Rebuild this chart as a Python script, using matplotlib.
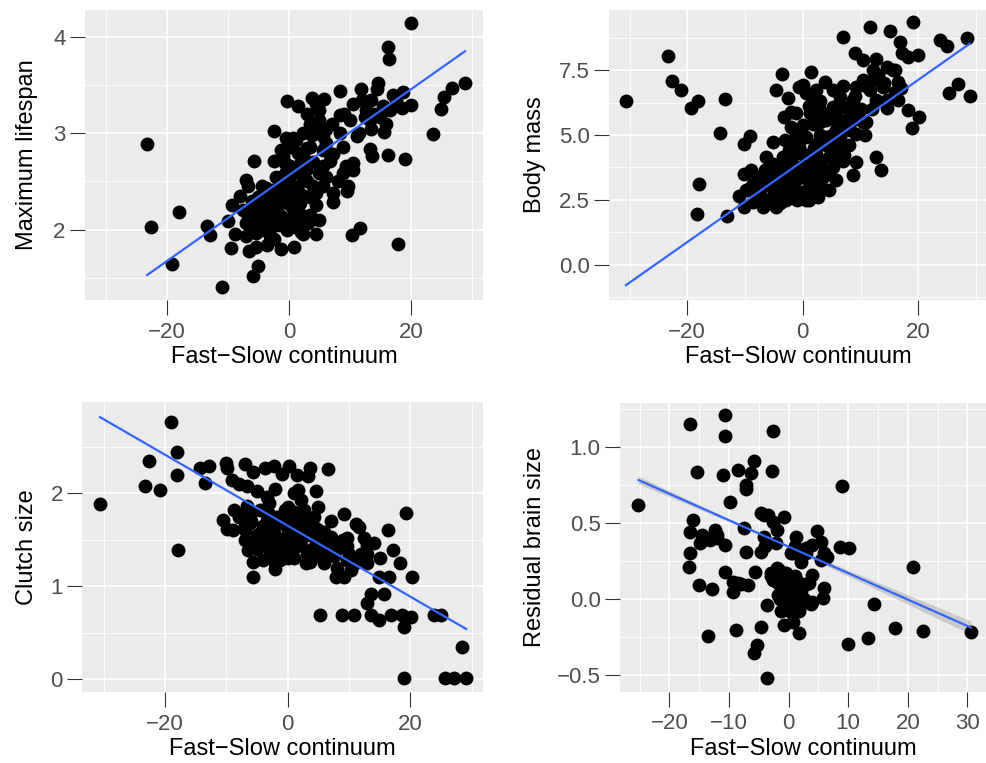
import numpy as np
import matplotlib
matplotlib.use('Agg')
import matplotlib.pyplot as plt
from matplotlib.ticker import FixedLocator

plt.rcParams['font.family'] = ['Liberation Sans', 'DejaVu Sans']

# ---- data ----
# panel 1: maximum lifespan vs fast-slow continuum
life_x = [20.1, 16.2, 16.4, 28.9, 26.8, 25.4, 24.9, 23.7, 19.0, 17.9, -23.3, -22.7, -18.0, -19.2,
          -11.0, -13.5, -12.9, -10.0, -9.3, -9.5, -8.8, -5.9, -5.1, -6.5, -5.4, -3.6, -1.3, 0.8,
          4.5, 2.3, 10.4, 11.6, -2.5, -5.8, -7.1, -6.8, -0.3, 1.5, 3.7, 5.7, 5.0, 4.9, 8.3, 11.9,
          14.6, 14.5, 18.7, 20.1, 18.5, 13.5, 15.5, 15.6, 16.3, 13.7, 13.3, 12.4, 13.5, 8.3, 10.0,
          11.1, 8.9, 8.3, 7.2, 5.6, 3.7, 1.2, 0.4, -1.3, -2.4, -0.7, 2.3, 2.8, 5.0, 6.7, 8.9, 10.5,
          9.7, 7.2, 7.2, 5.6, 4.5, 3.4, 1.5, 0.1, -2.1, -3.7, -5.1, -5.9, -6.7, -7.0, -5.4, -4.3,
          -3.2, -2.1, -0.4, 0.7, 2.3, 3.1, 1.2, -0.4, -2.1, -3.7, -5.4, -2.9, -1.3, 0.1, 1.8, 4.5,
          5.6, 6.7, 0.7, 2.3, 4.5, 3.4, -1.0, 9.4, 10.5, 13.3, 14.9, 12.7, 16.5, 17.6, -1.3, -4.3,
          -6.5, -2.1, 2.3, 5.6, 3.4, 0.1, -2.6, -4.5, -7.0, -3.2,
          -6.0, -4.8, -3.5, -2.0, -1.0, 0.8, 1.5, -0.5, -3.0, -4.5, -6.2, -1.5, 0.5, 2.0, 3.0,
          4.0, 1.5, -0.5, 3.0, 6.0, 7.0, 9.0, 10.5, 11.5, 12.0, 14.0, 16.0, 17.0, 8.0, 9.5, 5.0,
          3.5, 2.0, -2.5, -7.5, -8.0, 6.0, 4.5,
          -4.0, -2.5, -1.5, 0.0, 1.0, -5.0, -4.0, -1.0, 0.5, 2.5, 1.0, -0.5, 4.0, 6.0, 3.0]
life_y = [4.14, 3.90, 3.77, 3.52, 3.47, 3.38, 3.25, 2.99, 2.73, 1.85, 2.89, 2.03, 2.18, 1.64,
          1.41, 2.04, 1.94, 2.09, 2.26, 1.81, 1.95, 1.52, 1.62, 1.78, 1.82, 1.84, 1.80, 1.82,
          1.96, 1.95, 1.94, 2.02, 3.02, 2.71, 2.52, 2.45, 3.34, 3.28, 3.37, 3.36, 3.24, 3.14, 3.44,
          3.46, 3.52, 3.46, 3.43, 3.29, 3.26, 3.35, 3.28, 3.01, 2.78, 2.76, 2.84, 3.17, 3.05, 3.19,
          3.14, 2.97, 2.86, 3.00, 2.79, 2.97, 2.98, 2.93, 2.86, 2.83, 2.71, 2.69, 2.76, 2.62, 2.59,
          2.71, 2.59, 2.62, 2.45, 2.38, 2.29, 2.45, 2.26, 2.34, 2.40, 2.48, 2.55, 2.43, 2.34, 2.24,
          2.14, 2.07, 2.07, 2.17, 2.28, 2.34, 2.28, 2.21, 2.14, 2.07, 2.03, 2.00, 2.05, 2.00, 1.97,
          2.14, 2.14, 2.34, 2.28, 2.38, 2.66, 2.79, 2.95, 3.00, 3.03, 2.86, 2.76, 2.66, 2.69, 3.14,
          3.17, 3.24, 3.24, 3.34, 2.55, 2.24, 2.17, 2.17, 2.52, 2.83, 3.10, 2.66, 2.41, 2.07, 1.93,
          1.93,
          2.30, 2.20, 2.35, 2.25, 2.40, 2.30, 2.20, 2.10, 2.05, 2.45, 2.05, 2.50, 2.60, 2.70, 2.85,
          2.70, 2.80, 2.95, 3.20, 3.05, 3.10, 3.20, 3.30, 3.00, 3.35, 3.20, 3.10, 3.40, 2.50, 2.40,
          2.10, 2.15, 1.98, 1.90, 2.20, 2.35, 2.90, 3.30,
          2.00, 2.10, 2.05, 2.10, 2.10, 2.15, 2.30, 2.30, 2.45, 2.35, 2.60, 2.60, 2.45, 2.55, 2.50]

# panel 2: body mass
mass_x = [-30.6, -23.4, -22.7, -21.0, -19.4, -18.2, -13.5, -14.3, -18.0, -18.3, -13.1, -10.1,
          -9.1, -5.1, -3.6, -4.6, -2.5, 1.4, 0.0, 3.8, 6.9, 6.9, 11.6, 15.1, 19.1, 16.8, 17.1,
          18.2, 19.9, 9.1, 10.4, 12.7, 14.5, 15.6, 12.1, 23.7, 25.0, 28.4, 26.9, 25.4, 28.9, 18.2,
          20.2, 19.0, 16.5, 15.9, 14.5, 16.5, 14.5, 12.7, 13.6, 9.2, 8.7, 7.2, 10.7, 9.2, 10.4,
          8.7, 10.4, 9.2, 11.6, 12.7, 8.7, 6.4, 5.2, 2.3, 1.7, 2.9, -1.2, -3.2, 0.0, -1.2, 1.7,
          4.0, 5.8, 7.5, 5.8, 4.0, 2.3, 0.6, -0.6, -2.3, -3.5, -6.4, -5.2, -6.6, -8.9, -10.1,
          -8.7, -11.0, -9.8, -10.1, -8.7, -6.9, -5.2, -4.6, -2.9, -4.0, -2.3, -1.2, -2.9, 0.0,
          -1.2, 0.6, 2.6, 1.7, 2.9, 1.2, 4.6, 5.8, 4.3, 5.8, 4.6, 2.9, -1.7, -6.4, -7.5, 0.0,
          2.3, 8.1, 6.4, 1.2, -2.0, 5.2, 6.9, 12.1, 13.9, -0.6, 0.6, -5.8, -1.7, -4.0, 3.5, 5.2,
          -8.0, -7.0, -6.0, -5.0, -4.0, -3.0, -2.0, -1.0, 0.0, 1.0, 2.0, 3.0, -3.0, -1.0, 1.0,
          0.5, -0.5, 2.0, 3.0, 4.0, 3.0, 5.0, 6.0, 7.0, 4.0, 2.0, 6.0, 8.0, 9.0, 10.0, 11.0,
          13.0, 14.0, 3.0, 1.0, -2.0, -3.0, -6.0, -9.0, 7.0, 8.0, 11.0, 12.0, 16.0, 17.0,
          -7.0, -5.0, -3.0, -1.0, 1.0, 2.0, -2.0, 0.0, 1.5, -4.5, -8.0, 4.0, 5.0, 6.0, 9.0,
          3.0, 0.0, -1.0]
mass_y = [6.32, 8.04, 7.08, 6.73, 6.02, 6.32, 6.37, 5.08, 3.12, 1.97, 1.88, 4.64, 4.95, 4.73,
          7.33, 6.75, 6.44, 7.44, 6.92, 7.05, 6.88, 8.79, 9.17, 9.02, 9.33, 8.56, 8.17, 8.01,
          8.08, 8.17, 7.89, 7.91, 7.63, 7.50, 7.50, 8.66, 8.43, 8.72, 6.96, 6.62, 6.51, 5.96,
          5.70, 5.25, 7.05, 6.66, 6.34, 6.34, 6.02, 4.15, 3.66, 3.96, 3.45, 4.22, 4.99, 5.05,
          5.51, 5.89, 7.11, 6.86, 6.73, 6.34, 6.34, 6.47, 6.73, 6.73, 6.34, 5.96, 5.83, 5.70,
          5.38, 5.05, 5.44, 5.57, 5.70, 5.57, 5.18, 4.93, 4.67, 4.93, 4.54, 4.41, 4.15, 4.15,
          3.90, 3.64, 3.64, 3.51, 3.12, 2.67, 2.87, 2.22, 2.42, 2.22, 2.61, 2.22, 2.48, 3.12,
          3.38, 3.77, 3.64, 3.38, 2.87, 2.48, 2.61, 3.12, 3.77, 4.02, 4.15, 4.54, 3.51, 3.25,
          2.87, 2.87, 2.61, 2.48, 2.74, 4.28, 4.28, 5.18, 4.93, 5.83, 5.31, 6.08, 6.08, 7.11,
          6.86, 6.86, 6.60, 3.12, 4.67, 3.77, 3.38, 3.77,
          2.60, 3.00, 2.40, 2.80, 2.40, 2.70, 3.00, 2.50, 2.80, 2.50, 2.90, 3.20, 3.50, 3.30, 3.60,
          4.00, 4.30, 4.50, 4.00, 4.60, 5.00, 5.00, 4.80, 5.30, 5.70, 5.50, 6.10, 6.00, 6.50, 6.00,
          6.90, 7.30, 7.00, 6.30, 6.10, 5.90, 4.80, 3.40, 3.00, 4.00, 4.60, 5.50, 6.00, 7.50, 6.80,
          2.50, 3.20, 3.00, 2.80, 3.00, 3.50, 4.00, 3.60, 4.20, 3.60, 3.40, 3.60, 4.20, 5.50, 5.60,
          5.50, 5.00, 4.70]

# panel 3: clutch size
clutch_x = [-30.6, -19.1, -18.1, -22.6, -18.1, -23.3, -20.8, -17.9, -14.3, -12.8, -13.5, -10.0,
            -9.9, -9.1, -7.0, -5.6, -3.7, -2.3, -0.9, 0.2, 1.5, 3.7, 3.3, 6.6, -6.7, -5.0, -3.4,
            1.6, 4.6, 2.1, 2.6, -0.4, -10.5, -8.7, -9.9, -7.7, -6.7, -6.1, -6.9, -4.5, -3.4, -1.7,
            -0.1, 1.5, 3.2, 4.8, 7.0, 9.2, 11.1, 11.6, 9.7, 12.4, 14.1, 16.4, 19.3, 17.1, 18.3,
            20.2, -6.4, -5.0, -3.4, -5.6, -4.0, -5.7, -2.0, -1.2, -0.1, 1.5, 3.2, 3.7, 5.3, 5.3,
            7.5, 9.7, 10.3, 7.8, 9.2, 11.9, 13.0, 14.9, 16.6, 13.6, 15.7, 12.9, 5.2, 8.9, 10.8,
            13.6, 14.9, 16.8, 18.7, 20.1, 19.0, 23.8, 25.0, 28.5, 19.0, 25.7, 27.1, 29.1, -3.4,
            -1.2, 1.0, -2.3, -4.5, 4.3, 6.4, 2.1, 0.4, 4.3, 13.0, 1.0, 9.7, -2.8, -0.7, 7.0,
            -8.0, -6.0, -5.0, -4.0, -3.0, -2.0, -1.0, 0.0, 1.0, 2.0, 3.0, 4.0, 5.0, 6.0, 8.0, 9.0,
            10.0, -3.0, -1.0, 1.0, 3.0, 6.0, 8.0, 11.0, 12.0, -7.0, -5.0, -2.0, 0.0, 2.0, -8.0,
            -2.0, 5.0, 7.0, 13.0, 15.0,
            -9.0, -7.0, -4.0, -2.0, 0.0, 2.0, 4.0, 6.0, -6.0, -3.0, 1.0, 3.0, 0.0, 7.0]
clutch_y = [1.885, 2.77, 2.44, 2.35, 2.20, 2.08, 2.04, 1.39, 2.27, 2.29, 2.11, 2.33, 2.27, 2.14,
            2.32, 2.23, 2.27, 2.29, 2.21, 2.29, 2.20, 2.27, 2.19, 2.26, 2.08, 2.02, 1.96, 2.04,
            2.02, 1.93, 1.82, 1.82, 1.71, 1.82, 1.62, 1.77, 1.86, 1.68, 1.61, 1.82, 1.71, 1.75,
            1.64, 1.71, 1.64, 1.62, 1.53, 1.78, 1.67, 1.64, 1.52, 1.52, 1.46, 1.61, 1.79, 1.39,
            1.25, 1.10, 1.39, 1.46, 1.46, 1.26, 1.28, 1.10, 1.18, 1.28, 1.35, 1.43, 1.35, 1.26,
            1.32, 1.43, 1.32, 1.28, 1.17, 1.10, 1.10, 1.35, 1.25, 1.10, 1.10, 0.92, 0.92, 0.82,
            0.69, 0.69, 0.69, 0.69, 0.64, 0.69, 0.69, 0.67, 0.56, 0.69, 0.69, 0.34, 0.01, 0.01,
            0.01, 0.01, 1.57, 1.50, 1.53, 1.64, 1.57, 1.53, 1.43, 1.50, 1.75, 1.75, 1.44, 2.00,
            1.43, 1.37, 1.43, 1.43,
            1.75, 1.70, 1.55, 1.65, 1.78, 1.55, 1.70, 1.55, 1.62, 1.45, 1.55, 1.40, 1.48, 1.58,
            1.40, 1.50, 1.35, 1.40, 1.35, 1.30, 1.25, 1.25, 1.20, 1.25, 1.30, 1.50, 1.40, 1.25,
            1.85, 1.75, 2.10, 2.05, 1.85, 1.70, 1.35, 1.30,
            1.60, 1.65, 1.45, 1.45, 1.45, 1.55, 1.60, 1.45, 1.80, 1.90, 1.80, 1.70, 1.30, 1.35]

# panel 4: residual brain size
brain_x = [-25.2, -16.6, -10.7, -10.7, -2.6, -15.3, -11.0, -8.5, -6.3, -5.8, -2.8, -7.2, -7.1,
           -9.9, 9.0, -16.0, -16.6, -14.6, -14.9, -12.4, -12.1, -10.7, -13.2, -16.6, -16.8,
           -15.0, -12.8, -10.6, -9.3, -8.5, -9.3, -6.8, -7.5, -7.1, -4.6, -4.1, -2.7, -0.8,
           -4.1, -4.7, -2.1, 1.2, 0.7, 2.1, 2.9, 4.0, 4.7, 5.4, 6.5, 5.4, 8.7, 10.1, -5.7, -2.9,
           -1.6, -0.2, -1.8, 0.4, -1.8, 0.9, 3.9, 3.4, 5.9, 5.7, 3.7, 2.1, -3.6, -1.3, 0.4, 1.8,
           -0.7, 0.8, 1.7, -4.6, -8.9, -13.6, -5.3, -5.8, -3.6, 14.3, 10.0, 13.3, 17.9, 22.6,
           20.8, 30.6, -0.4, 1.5, -2.7, 2.6, -0.2, -1.0, 4.0, 0.4,
           -3.0, -2.0, -1.0, 0.0, 1.0, 2.0, -1.5, 0.5, 3.0, -4.0, -2.0, 1.0, 3.0, 6.0, -12.0,
           -14.0, -8.0, -3.5]
brain_y = [0.617, 1.149, 1.208, 1.072, 1.105, 0.836, 0.814, 0.847, 0.829, 0.906, 0.842, 0.748,
           0.720, 0.639, 0.742, 0.518, 0.442, 0.420, 0.365, 0.453, 0.398, 0.354, 0.387, 0.299,
           0.212, 0.091, 0.063, 0.179, 0.113, 0.102, 0.048, 0.091, 0.468, 0.310, 0.562, 0.551,
           0.507, 0.536, 0.409, 0.310, 0.365, 0.404, 0.299, 0.240, 0.332, 0.354, 0.446, 0.376,
           0.277, 0.255, 0.343, 0.332, 0.179, 0.168, 0.190, 0.147, 0.102, 0.091, 0.026, 0.004,
           0.160, 0.102, 0.070, 0.004, -0.033, -0.033, -0.040, -0.077, -0.088, -0.077, -0.171,
           -0.150, -0.226, -0.182, -0.204, -0.242, -0.303, -0.353, -0.522, -0.037, -0.296,
           -0.255, -0.193, -0.209, 0.212, -0.220, 0.168, 0.113, 0.124, -0.004, -0.026, 0.015,
           -0.022, 0.299,
           0.15, 0.20, 0.10, 0.05, 0.15, 0.05, 0.00, -0.05, 0.10, 0.35, 0.45, 0.35, 0.30, 0.30,
           0.42, 0.40, 0.10, 0.55]

# fitted lines (intercept, slope)
life_fit = (2.566, 0.0445)
mass_fit = (4.00, 0.1561)
clutch_fit = (1.651, -0.0382)
brain_fit = (0.343, -0.01737)
# confidence band of panel 4: half width at its narrowest, where, and at the right end
brain_band = (0.008, -5.0, 0.044)

# ---- layout (pixels of a 987x763 canvas) ----
W, H = 987, 763
fig = plt.figure(figsize=(W / 100, H / 100), dpi=100)


def add_panel(x0, y0, x1, y1):
    return fig.add_axes([x0 / W, 1 - y1 / H, (x1 - x0) / W, (y1 - y0) / H])


def style(ax, xlim, ylim, xmaj, xmin, ymaj, ymin, ylabel, xlab_y, ylab_x, cy):
    ax.set_facecolor('#EBEBEB')
    for s in ax.spines.values():
        s.set_visible(False)
    ax.set_xlim(*xlim)
    ax.set_ylim(*ylim)
    ax.xaxis.set_major_locator(FixedLocator(xmaj))
    ax.xaxis.set_minor_locator(FixedLocator(xmin))
    ax.yaxis.set_major_locator(FixedLocator(ymaj))
    ax.yaxis.set_minor_locator(FixedLocator(ymin))
    ax.grid(which='major', color='white', lw=1.2)
    ax.grid(which='minor', color='white', lw=0.6)
    ax.set_axisbelow(True)
    ax.tick_params(which='major', length=11, width=0.8, color='#333333',
                   labelsize=16, labelcolor='#4D4D4D')
    ax.tick_params(axis='x', which='major', pad=4.5)
    ax.tick_params(axis='y', which='major', pad=3)
    ax.tick_params(which='minor', length=0)
    ax.set_xlabel('Fast\u2212Slow continuum', fontsize=17, va='baseline')
    ax.set_ylabel(ylabel, fontsize=17, va='baseline')
    ax.yaxis.set_label_coords(ylab_x, cy, transform=fig.transFigure)
    # x label centred under the panel
    pos = ax.get_position()
    ax.xaxis.set_label_coords((pos.x0 + pos.x1) / 2, xlab_y, transform=fig.transFigure)


def draw(ax, x, y, fit):
    x = np.asarray(x)
    ax.scatter(x, y, s=100, c='black', linewidths=0, zorder=3)
    xs = np.array([x.min(), x.max()])
    ax.plot(xs, fit[0] + fit[1] * xs, color='#3366FF', lw=1.6, zorder=4)


ax1 = add_panel(85, 10, 483.3, 300)
ax2 = add_panel(609.3, 10, 987, 300)
ax3 = add_panel(82.3, 402.3, 483.3, 692.3)
ax4 = add_panel(620, 402.7, 987, 691.7)

draw(ax1, life_x, life_y, life_fit)
draw(ax2, mass_x, mass_y, mass_fit)
draw(ax3, clutch_x, clutch_y, clutch_fit)

# panel 4 with its grey band
bx = np.linspace(min(brain_x), max(brain_x), 100)
hw0, xc, hw_end = brain_band
k = (hw_end ** 2 - hw0 ** 2) / (max(brain_x) - xc) ** 2
hw = np.sqrt(hw0 ** 2 + k * (bx - xc) ** 2)
mid = brain_fit[0] + brain_fit[1] * bx
ax4.fill_between(bx, mid - hw, mid + hw, color='#999999', alpha=0.4, lw=0, zorder=2)
draw(ax4, brain_x, brain_y, brain_fit)

xl = (-33.5, 31.9)
style(ax1, xl, (1.27, 4.28), [-20, 0, 20], [-30, -10, 10, 30],
      [2, 3, 4], [1.5, 2.5, 3.5], 'Maximum lifespan', 1 - 363 / H, 33 / W, 1 - 155 / H)
style(ax2, xl, (-1.35, 9.81), [-20, 0, 20], [-30, -10, 10, 30],
      [0, 2.5, 5, 7.5], [-1.25, 1.25, 3.75, 6.25, 8.75], 'Body mass', 1 - 363 / H, 541 / W, 1 - 155 / H)
style(ax3, xl, (-0.143, 2.98), [-20, 0, 20], [-30, -10, 10, 30],
      [0, 1, 2], [0.5, 1.5, 2.5], 'Clutch size', 1 - 755 / H, 33 / W, 1 - 547 / H)
style(ax4, (-28.3, 33.3), (-0.61, 1.289), [-20, -10, 0, 10, 20, 30], [-25, -15, -5, 5, 15, 25],
      [-0.5, 0, 0.5, 1.0], [-0.25, 0.25, 0.75, 1.25], 'Residual brain size', 1 - 755 / H, 541 / W, 1 - 547 / H)

plt.savefig('out.png', dpi=100)
